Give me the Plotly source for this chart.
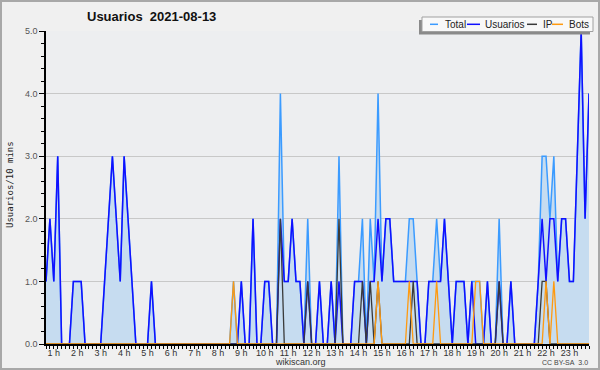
import plotly.graph_objects as go

# 10-minute slots from 00:00 (index 0) onwards
usuarios = [1, 2, 1, 3, 0, 0, 0, 1, 1, 1,
            0, 0, 0, 0, 0, 1, 2, 3, 2, 1,
            3, 2, 1, 0, 0, 0, 0, 1, 0, 0,
            0, 0, 0, 0, 0, 0, 0, 0, 0, 0,
            0, 0, 0, 0, 0, 0, 0, 0, 0, 0,
            1, 0, 0, 2, 0, 0, 1, 1, 0, 0,
            2, 1, 1, 2, 1, 1, 0, 1, 0, 0,
            1, 0, 0, 1, 0, 1, 0, 0, 0, 1,
            1, 1, 0, 1, 1, 2, 1, 2, 2, 1,
            1, 1, 1, 1, 1, 1, 0, 0, 1, 1,
            1, 1, 2, 1, 0, 1, 1, 1, 0, 1,
            0, 0, 0, 1, 0, 0, 1, 0, 0, 1,
            0, 0, 0, 0, 0, 0, 1, 2, 1, 2,
            2, 1, 2, 2, 1, 1, 3, 5, 2, 4]
ip = [0] * 140
for k, v in {60: 2, 67: 1, 75: 2, 81: 1, 83: 1, 85: 1, 94: 1, 116: 1, 127: 1, 128: 1}.items():
    ip[k] = v
bots = [0] * 140
for k, v in {48: 1, 85: 1, 93: 1, 100: 1, 110: 1, 111: 1, 128: 1, 130: 1}.items():
    bots[k] = v
total = [u + i + b for u, i, b in zip(usuarios, ip, bots)]
slots = list(range(len(total)))

hour_labels = [f"{h} h" for h in range(1, 24)]
hour_pos = [6 * h - 4 for h in range(1, 24)]
y_ticks = [0, 1, 2, 3, 4, 5]
y_labels = [f"{v:.1f}" for v in y_ticks]

C_TOTAL = "#3b9bff"
C_FILL = "#c6dcf0"
C_USR = "#1010ff"
C_IP = "#3a3a3a"
C_BOTS = "#ff9a10"
FONT = "Liberation Sans"

fig = go.Figure()
fig.add_trace(go.Scatter(x=slots, y=total, mode="lines", fill="tozeroy",
                         fillcolor=C_FILL, line=dict(color=C_TOTAL, width=1.5),
                         name="Total", showlegend=False))
fig.add_trace(go.Scatter(x=slots, y=usuarios, mode="lines",
                         line=dict(color=C_USR, width=1.5), name="Usuarios", showlegend=False))
fig.add_trace(go.Scatter(x=slots, y=ip, mode="lines",
                         line=dict(color=C_IP, width=1.3), name="IP", showlegend=False))
fig.add_trace(go.Scatter(x=slots, y=bots, mode="lines",
                         line=dict(color=C_BOTS, width=1.3), name="Bots", showlegend=False))

W, H = 600, 370
L, R, T, B = 46, 11, 31, 26
PW, PH = W - L - R, H - T - B


def px(x):
    return (x - L) / PW


def py(y):
    return (H - B - y) / PH


shapes = [
    dict(type="rect", xref="paper", yref="paper", x0=px(1), x1=px(599), y0=py(369), y1=py(1),
         line=dict(color="#a8a8a8", width=2), fillcolor="rgba(0,0,0,0)", layer="below"),
    # legend shadow + box
    dict(type="rect", xref="paper", yref="paper", x0=px(419), x1=px(590), y0=py(34.5), y1=py(20),
         line=dict(width=0), fillcolor="#8a8a8a", layer="above"),
    dict(type="rect", xref="paper", yref="paper", x0=px(422), x1=px(593), y0=py(31.5), y1=py(17),
         line=dict(color="#a0a0a0", width=1), fillcolor="#f8f8f8", layer="above"),
]
annotations = []
leg = [("Total", C_TOTAL, 430, 438, 443), ("Usuarios", C_USR, 467, 480, 483),
       ("IP", C_IP, 527, 537, 541), ("Bots", C_BOTS, 552, 563, 567)]
for name, col, a, b, tx in leg:
    shapes.append(dict(type="line", xref="paper", yref="paper", x0=px(a), x1=px(b),
                       y0=py(24.3), y1=py(24.3), line=dict(color=col, width=1.5), layer="above"))
    annotations.append(dict(text=name, xref="paper", yref="paper", x=px(tx), y=py(24.5),
                            xanchor="left", yanchor="middle", showarrow=False,
                            font=dict(family=FONT, size=10, color="#222")))

annotations += [
    dict(text="Usuarios\u00a0 2021-08-13", xref="paper", yref="paper", x=px(151), y=py(16.5),
         xanchor="center", yanchor="middle", showarrow=False,
         font=dict(family=FONT, size=13, color="#111", weight="bold")),
    dict(text="Usuarios/10 mins", xref="paper", yref="paper", x=px(10), y=py(185),
         xanchor="center", yanchor="middle", showarrow=False, textangle=-90,
         font=dict(family="DejaVu Sans Mono", size=9, color="#222")),
    dict(text="wikiscan.org", xref="paper", yref="paper", x=px(300), y=py(362),
         xanchor="center", yanchor="middle", showarrow=False,
         font=dict(family=FONT, size=9, color="#333")),
    dict(text="CC BY-SA\u00a0 3.0", xref="paper", yref="paper", x=px(590), y=py(362),
         xanchor="right", yanchor="middle", showarrow=False,
         font=dict(family=FONT, size=7, color="#444")),
]

fig.update_layout(
    width=W, height=H, margin=dict(l=L, r=R, t=T, b=B, pad=0),
    paper_bgcolor="#f0f0f0", plot_bgcolor="#edeef0",
    shapes=shapes, annotations=annotations, showlegend=False,
    xaxis=dict(range=[0, len(slots) - 1], showgrid=False, zeroline=False,
               showline=True, linecolor="#000", linewidth=1.5,
               tickmode="array", tickvals=hour_pos, ticktext=hour_labels,
               ticks="", ticklabelstandoff=-1,
               tickfont=dict(family=FONT, size=9, color="#333"),
               minor=dict(tickmode="linear", tick0=0, dtick=1, ticks="outside",
                          ticklen=3, tickcolor="#000", tickwidth=1, showgrid=False)),
    yaxis=dict(range=[0, 5], showgrid=True, gridcolor="#c8c8c8", gridwidth=1,
               zeroline=False, showline=True, linecolor="#000", linewidth=1.5,
               tickmode="array", tickvals=y_ticks, ticktext=y_labels,
               ticks="outside", ticklen=5, tickcolor="#000", tickwidth=1,
               tickfont=dict(family=FONT, size=9, color="#555"),
               minor=dict(tickmode="linear", tick0=0, dtick=0.2, ticks="outside",
                          ticklen=3, tickcolor="#000", tickwidth=1, showgrid=False)),
)

fig.write_html("out.html", config={"displayModeBar": False},
               post_script="document.body.style.margin='0';")
